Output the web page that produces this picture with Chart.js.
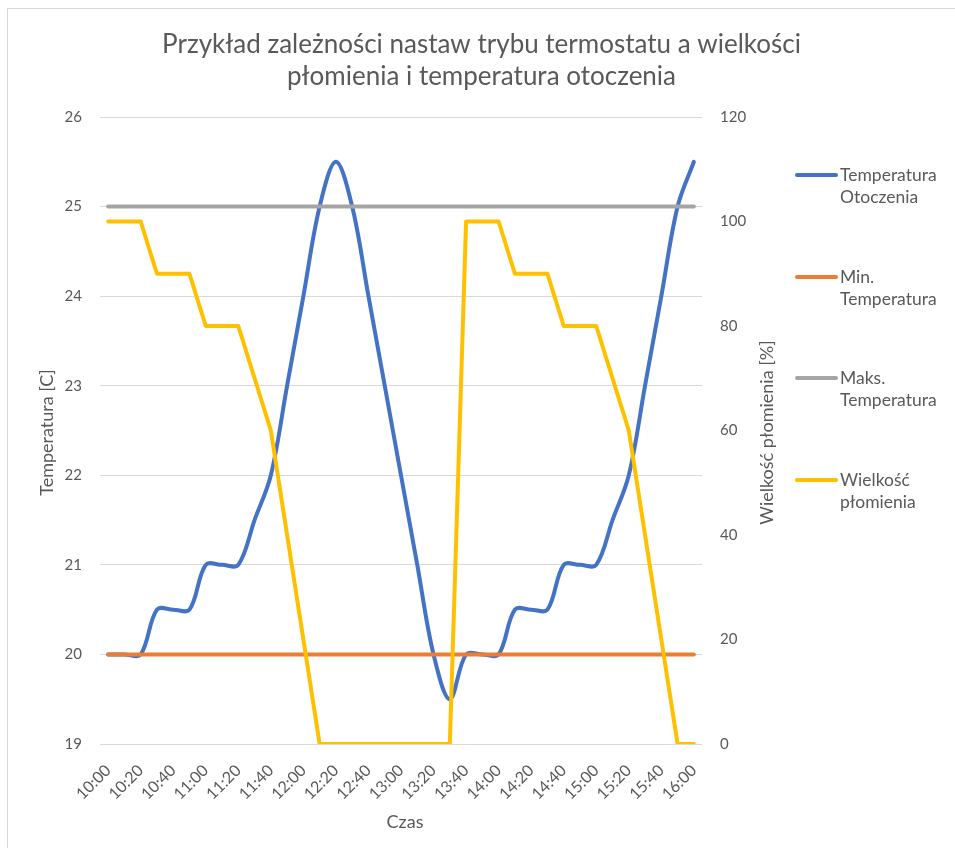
<!DOCTYPE html>
<html lang="pl">
<head>
<meta charset="utf-8">
<title>Nastawy termostatu</title>
<script src="https://cdn.jsdelivr.net/npm/chart.js@4.4.1/dist/chart.umd.min.js"></script>
<style>
  html, body { margin: 0; padding: 0; background: #fff; }
  #wrap { width: 955px; height: 848px; }
</style>
</head>
<body>
<div id="wrap"><canvas id="thermoChart" width="955" height="848"></canvas></div>
<script>
// pomiary co 10 minut, 10:00 - 16:00
const czas = [
  '10:00', '10:10', '10:20', '10:30', '10:40', '10:50', '11:00', '11:10', '11:20', '11:30',
  '11:40', '11:50', '12:00', '12:10', '12:20', '12:30', '12:40', '12:50', '13:00', '13:10',
  '13:20', '13:30', '13:40', '13:50', '14:00', '14:10', '14:20', '14:30', '14:40', '14:50',
  '15:00', '15:10', '15:20', '15:30', '15:40', '15:50', '16:00'
];

const temperaturaOtoczenia = [
  20, 20, 20, 20.5, 20.5, 20.5, 21, 21, 21, 21.5,
  22, 23, 24, 25, 25.5, 25, 24, 23, 22, 21,
  20, 19.5, 20, 20, 20, 20.5, 20.5, 20.5, 21, 21,
  21, 21.5, 22, 23, 24, 25, 25.5
];

const minTemperatura = [
  20, 20, 20, 20, 20, 20, 20, 20, 20, 20,
  20, 20, 20, 20, 20, 20, 20, 20, 20, 20,
  20, 20, 20, 20, 20, 20, 20, 20, 20, 20,
  20, 20, 20, 20, 20, 20, 20
];

const maksTemperatura = [
  25, 25, 25, 25, 25, 25, 25, 25, 25, 25,
  25, 25, 25, 25, 25, 25, 25, 25, 25, 25,
  25, 25, 25, 25, 25, 25, 25, 25, 25, 25,
  25, 25, 25, 25, 25, 25, 25
];

const wielkoscPlomienia = [
  100, 100, 100, 90, 90, 90, 80, 80, 80, 70,
  60, 40, 20, 0, 0, 0, 0, 0, 0, 0,
  0, 0, 100, 100, 100, 90, 90, 90, 80, 80,
  80, 70, 60, 40, 20, 0, 0
];

const tytul = ['Przykład zależności nastaw trybu termostatu a wielkości', 'płomienia i temperatura otoczenia'];

const textColor = '#595959';
const gridColor = '#d9d9d9';
const fontName = 'Lato, "Open Sans", sans-serif';

const serie = [
  { label: ['Temperatura', 'Otoczenia'], color: '#4472c4' },
  { label: ['Min.', 'Temperatura'], color: '#ed7d31' },
  { label: ['Maks.', 'Temperatura'], color: '#a5a5a5' },
  { label: ['Wielkość', 'płomienia'], color: '#ffc000' }
];

// ramka, tytuły osi i legenda po prawej
const extras = {
  id: 'extras',
  beforeDraw(chart) {
    const ctx = chart.ctx;
    ctx.save();
    ctx.strokeStyle = gridColor;
    ctx.lineWidth = 1;
    ctx.strokeRect(7.5, 8.5, 1200, 1200);
    ctx.restore();
  },
  afterDraw(chart) {
    const ctx = chart.ctx;
    const area = chart.chartArea;
    const midY = (area.top + area.bottom) / 2 + 2;
    ctx.save();
    ctx.fillStyle = textColor;
    ctx.font = '18px ' + fontName;
    ctx.textAlign = 'center';
    ctx.textBaseline = 'middle';
    ctx.fillText('Czas', (area.left + area.right) / 2 + 4, 822);

    ctx.save();
    ctx.translate(47, midY);
    ctx.rotate(-Math.PI / 2);
    ctx.fillText('Temperatura [C]', 0, 0);
    ctx.restore();

    ctx.save();
    ctx.translate(767, midY);
    ctx.rotate(-Math.PI / 2);
    ctx.fillText('Wielkość płomienia [%]', 0, 0);
    ctx.restore();

    // legenda
    const legendY = [175, 277, 378, 480];
    ctx.textAlign = 'left';
    ctx.font = '17.5px ' + fontName;
    serie.forEach((s, i) => {
      const y = legendY[i];
      ctx.strokeStyle = s.color;
      ctx.lineWidth = 4;
      ctx.lineCap = 'round';
      ctx.beginPath();
      ctx.moveTo(797, y);
      ctx.lineTo(836, y);
      ctx.stroke();
      ctx.fillText(s.label[0], 840, y);
      ctx.fillText(s.label[1], 840, y + 22);
    });
    ctx.restore();
  }
};

function lineSet(idx, data, axis, order, tension) {
  return {
    label: serie[idx].label.join(' '),
    data: data,
    yAxisID: axis,
    borderColor: serie[idx].color,
    backgroundColor: serie[idx].color,
    borderWidth: 4,
    borderCapStyle: 'round',
    borderJoinStyle: 'round',
    pointRadius: 0,
    tension: tension,
    fill: false,
    order: order
  };
}

const ctx = document.getElementById('thermoChart').getContext('2d');
const chart = new Chart(ctx, {
  type: 'line',
  data: {
    labels: czas,
    datasets: [
      lineSet(0, temperaturaOtoczenia, 'y', 4, 0.35),
      lineSet(1, minTemperatura, 'y', 3, 0),
      lineSet(2, maksTemperatura, 'y', 2, 0),
      lineSet(3, wielkoscPlomienia, 'y1', 1, 0)
    ]
  },
  options: {
    responsive: false,
    animation: false,
    events: [],
    layout: { padding: { left: 8, top: 8, right: 0, bottom: 0 } },
    plugins: {
      legend: { display: false },
      tooltip: { enabled: false },
      title: {
        display: true,
        text: tytul,
        color: textColor,
        font: { family: fontName, size: 26, weight: 'normal', lineHeight: 32 / 26 },
        padding: { top: 21, bottom: 24 }
      }
    },
    scales: {
      x: {
        offset: true,
        grid: { display: false },
        border: { display: false },
        afterFit(scale) { scale.height = 104; },
        ticks: {
          autoSkip: false,
          maxRotation: 45,
          minRotation: 45,
          padding: 9,
          color: textColor,
          font: { family: fontName, size: 16 },
          callback(value, index) {
            return index % 2 === 0 ? this.getLabelForValue(value) : '';
          }
        }
      },
      y: {
        position: 'left',
        min: 19,
        max: 26,
        afterFit(scale) { scale.width = 92; },
        grid: { color: gridColor, lineWidth: 1, drawTicks: false },
        border: { display: false },
        ticks: {
          stepSize: 1,
          padding: 18,
          color: textColor,
          font: { family: fontName, size: 15 }
        }
      },
      y1: {
        position: 'right',
        min: 0,
        max: 120,
        afterFit(scale) { scale.width = 253; },
        grid: { drawOnChartArea: false, drawTicks: false },
        border: { display: false },
        ticks: {
          stepSize: 20,
          padding: 18,
          color: textColor,
          font: { family: fontName, size: 15 }
        }
      }
    }
  },
  plugins: [extras]
});
</script>
</body>
</html>
